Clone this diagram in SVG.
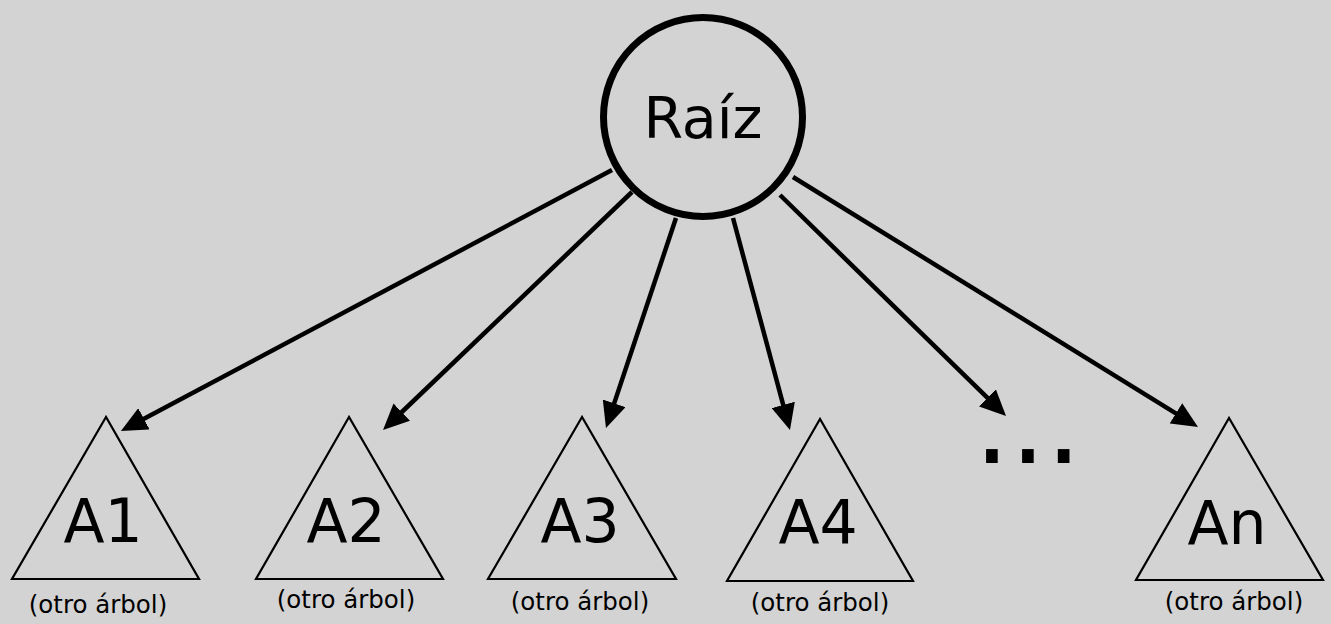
<svg xmlns="http://www.w3.org/2000/svg" width="1331" height="624" viewBox="0 0 1331 624">
<style>
.lbl{font-family:"DejaVu Sans","Noto Sans",sans-serif;fill:#000;text-anchor:middle}
.big{font-size:60px}
.sub{font-size:24.5px}
.tri{fill:none;stroke:#000;stroke-width:2.2;stroke-linejoin:miter}
.edge{stroke:#000;stroke-width:4.5;fill:none;marker-end:url(#ah)}
</style>
<defs>
<marker id="ah" markerUnits="userSpaceOnUse" viewBox="0 0 26 24" markerWidth="26" markerHeight="24" refX="18" refY="12" orient="auto">
<path d="M0,0 L26,12 L0,24 z" fill="#000"/>
</marker>
</defs>
<rect width="1331" height="624" fill="#d3d3d3"/>
<g id="connectors">
<line class="edge" x1="612" y1="170" x2="128" y2="427.2"/>
<line class="edge" x1="632" y1="192" x2="388.8" y2="424.5"/>
<line class="edge" x1="676" y1="218" x2="608.5" y2="420.4"/>
<line class="edge" x1="733" y1="218" x2="787.9" y2="422.3"/>
<line class="edge" x1="780" y1="195" x2="1000.3" y2="410.4"/>
<line class="edge" x1="793" y1="177" x2="1191.2" y2="422.8"/>
</g>
<g id="raiz">
<circle cx="703" cy="117" r="99.5" fill="none" stroke="#000" stroke-width="7"/>
<text class="lbl" x="703" y="138" font-size="57">Raíz</text>
</g>
<g id="a1">
<polygon class="tri" points="106,417 12,579 199,579"/>
<text class="lbl big" x="103" y="542">A1</text>
<text class="lbl sub" x="98" y="613">(otro árbol)</text>
</g>
<g id="a2">
<polygon class="tri" points="349,417 256,579 443,579"/>
<text class="lbl big" x="346" y="542">A2</text>
<text class="lbl sub" x="346" y="608">(otro árbol)</text>
</g>
<g id="a3">
<polygon class="tri" points="582,417 488,579 676,579"/>
<text class="lbl big" x="580" y="542">A3</text>
<text class="lbl sub" x="580" y="610">(otro árbol)</text>
</g>
<g id="a4">
<polygon class="tri" points="820,419 727,581 913,581"/>
<text class="lbl big" x="818" y="543">A4</text>
<text class="lbl sub" x="820" y="611">(otro árbol)</text>
</g>
<g id="dots">
<text x="974" y="463" font-family="DejaVu Sans, sans-serif" font-size="113">...</text>
</g>
<g id="an">
<polygon class="tri" points="1229,418 1136,580 1323,580"/>
<text class="lbl big" x="1227" y="544">An</text>
<text class="lbl sub" x="1234" y="610">(otro árbol)</text>
</g>
</svg>
